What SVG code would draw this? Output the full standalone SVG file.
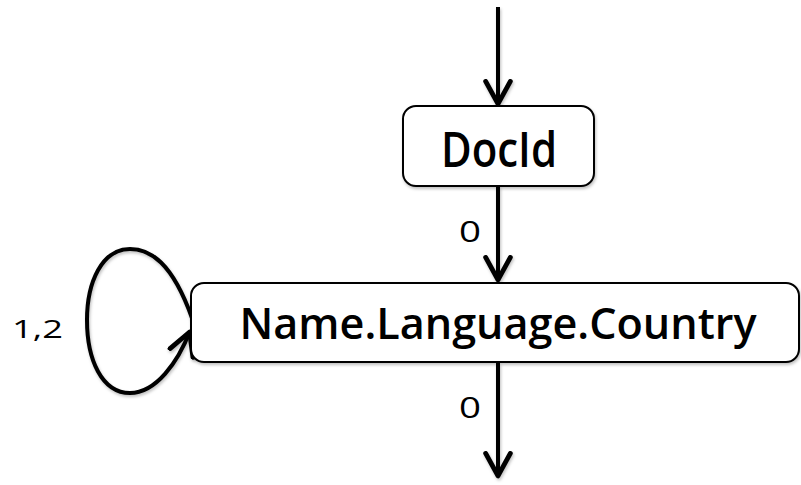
<svg xmlns="http://www.w3.org/2000/svg" width="801" height="485" viewBox="0 0 801 485">
  <style>
    .box { fill: #ffffff; stroke: #000000; stroke-width: 2; }
    .edge { fill: none; stroke: #000000; stroke-width: 4; }
    .title { font-family: "Open Sans", "Lato", "Liberation Sans", sans-serif; font-weight: 600; fill: #000000; text-anchor: middle; }
    .lbl { font-family: "Open Sans", "Lato", "Liberation Sans", sans-serif; fill: #000000; }
  </style>
  <defs>
    <marker id="arrow" markerUnits="userSpaceOnUse" markerWidth="30" markerHeight="30" viewBox="-24 -14 28 28" refX="0" refY="0" orient="auto">
      <path d="M -22,-11.5 L -1,0 L -22,11.5" fill="none" stroke="#000000" stroke-width="4.5" stroke-linejoin="round" stroke-linecap="round"/>
    </marker>
    <filter id="shadow" x="-20%" y="-20%" width="140%" height="140%">
      <feDropShadow dx="1" dy="2" stdDeviation="1.5" flood-color="#000000" flood-opacity="0.25"/>
    </filter>
  </defs>

  <!-- connectors -->
  <g id="connectors" filter="url(#shadow)">
    <path class="edge" d="M 498,7 L 498,105" marker-end="url(#arrow)"/>
    <path class="edge" d="M 498,186 L 498,281" marker-end="url(#arrow)"/>
    <path class="edge" d="M 498,363 L 498,477" marker-end="url(#arrow)"/>
    <path class="edge" d="M 192,318 C 172,262 150,249 130,249 C 102,249 87,282 87,320 C 87,360 102,393 130,393 C 156,393 178,362 190,331" marker-end="url(#arrow)"/>
  </g>

  <!-- edge labels -->
  <g id="edge-labels">
    <text class="lbl" x="470" y="242" font-size="30" textLength="22" lengthAdjust="spacingAndGlyphs" text-anchor="middle">0</text>
    <text class="lbl" x="470" y="418" font-size="30" textLength="22" lengthAdjust="spacingAndGlyphs" text-anchor="middle">0</text>
    <text class="lbl" x="12" y="338" font-size="26" textLength="51" lengthAdjust="spacingAndGlyphs">1,2</text>
  </g>

  <!-- nodes -->
  <g id="node-docid">
    <rect class="box" x="403" y="106" width="191" height="80" rx="13" filter="url(#shadow)"/>
    <text class="title" x="499" y="167" font-size="48" textLength="116" lengthAdjust="spacingAndGlyphs">DocId</text>
  </g>
  <g id="node-name-language-country">
    <rect class="box" x="191" y="283" width="608" height="79" rx="13" filter="url(#shadow)"/>
    <text class="title" x="498" y="339" font-size="43" textLength="517" lengthAdjust="spacingAndGlyphs">Name.Language.Country</text>
  </g>
</svg>
